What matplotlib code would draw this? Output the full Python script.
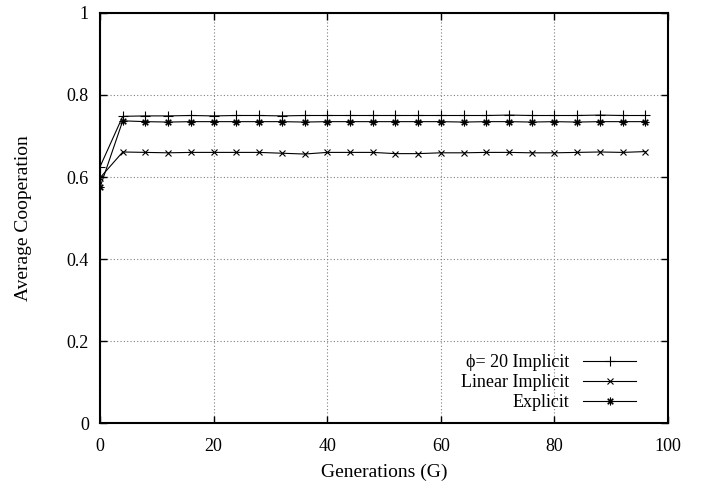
import matplotlib
matplotlib.use("Agg")
import matplotlib.pyplot as plt
import numpy as np

# data
generations = list(range(0, 100, 4))
phi20_implicit = [0.625, 0.748, 0.749, 0.749, 0.750, 0.749, 0.750, 0.750, 0.749, 0.750,
                  0.750, 0.750, 0.750, 0.750, 0.750, 0.750, 0.750, 0.750, 0.751, 0.750,
                  0.750, 0.750, 0.751, 0.750, 0.750]
linear_implicit = [0.598, 0.661, 0.660, 0.659, 0.660, 0.660, 0.660, 0.660, 0.658, 0.656,
                   0.660, 0.660, 0.660, 0.657, 0.657, 0.659, 0.659, 0.660, 0.660, 0.659,
                   0.659, 0.660, 0.661, 0.660, 0.662]
explicit = [0.575, 0.737, 0.735, 0.734, 0.735, 0.735, 0.735, 0.735, 0.735, 0.734,
            0.735, 0.735, 0.735, 0.735, 0.735, 0.735, 0.734, 0.735, 0.735, 0.734,
            0.735, 0.734, 0.735, 0.735, 0.735]
labels = ["\u03d5= 20 Implicit", "Linear Implicit", "Explicit"]

plt.rcParams["font.family"] = ["Liberation Serif", "DejaVu Serif"]
plt.rcParams["font.size"] = 13

fig = plt.figure(figsize=(7.13, 4.83), dpi=100)
ax = fig.add_axes([0.1403, 0.1242, 0.7966, 0.8489])

ax.plot(generations, phi20_implicit, color="black", lw=0.8, marker="+", ms=6.5, mew=0.8, label=labels[0])
ax.plot(generations, linear_implicit, color="black", lw=0.8, marker="x", ms=4.5, mew=0.8, label=labels[1])
ax.plot(generations, explicit, color="black", lw=0.8, marker=(8, 2, 0), ms=5.5, mew=0.8, label=labels[2])

ax.set_xlim(0, 100)
ax.set_ylim(0, 1)
ax.set_xticks([0, 20, 40, 60, 80, 100])
ax.set_yticks([0, 0.2, 0.4, 0.6, 0.8, 1])
ax.set_yticklabels(["0", "0.2", "0.4", "0.6", "0.8", "1"])
ax.tick_params(direction="in", top=True, right=True, length=5, width=1, pad=8)
ax.tick_params(axis="x", pad=11)
for s in ax.spines.values():
    s.set_linewidth(1.5)
ax.grid(True, linestyle=(0, (1, 2)), color="gray", lw=0.8)

ax.set_xlabel("Generations (G)", fontsize=14, labelpad=6)
ax.set_ylabel("Average Cooperation", fontsize=14, labelpad=25)

ax.legend(loc="lower right", bbox_to_anchor=(0.972, -0.01), frameon=False, markerfirst=False,
          handlelength=2.9, handletextpad=0.8, labelspacing=0.15, fontsize=13)

fig.savefig("out.png", dpi=100)
